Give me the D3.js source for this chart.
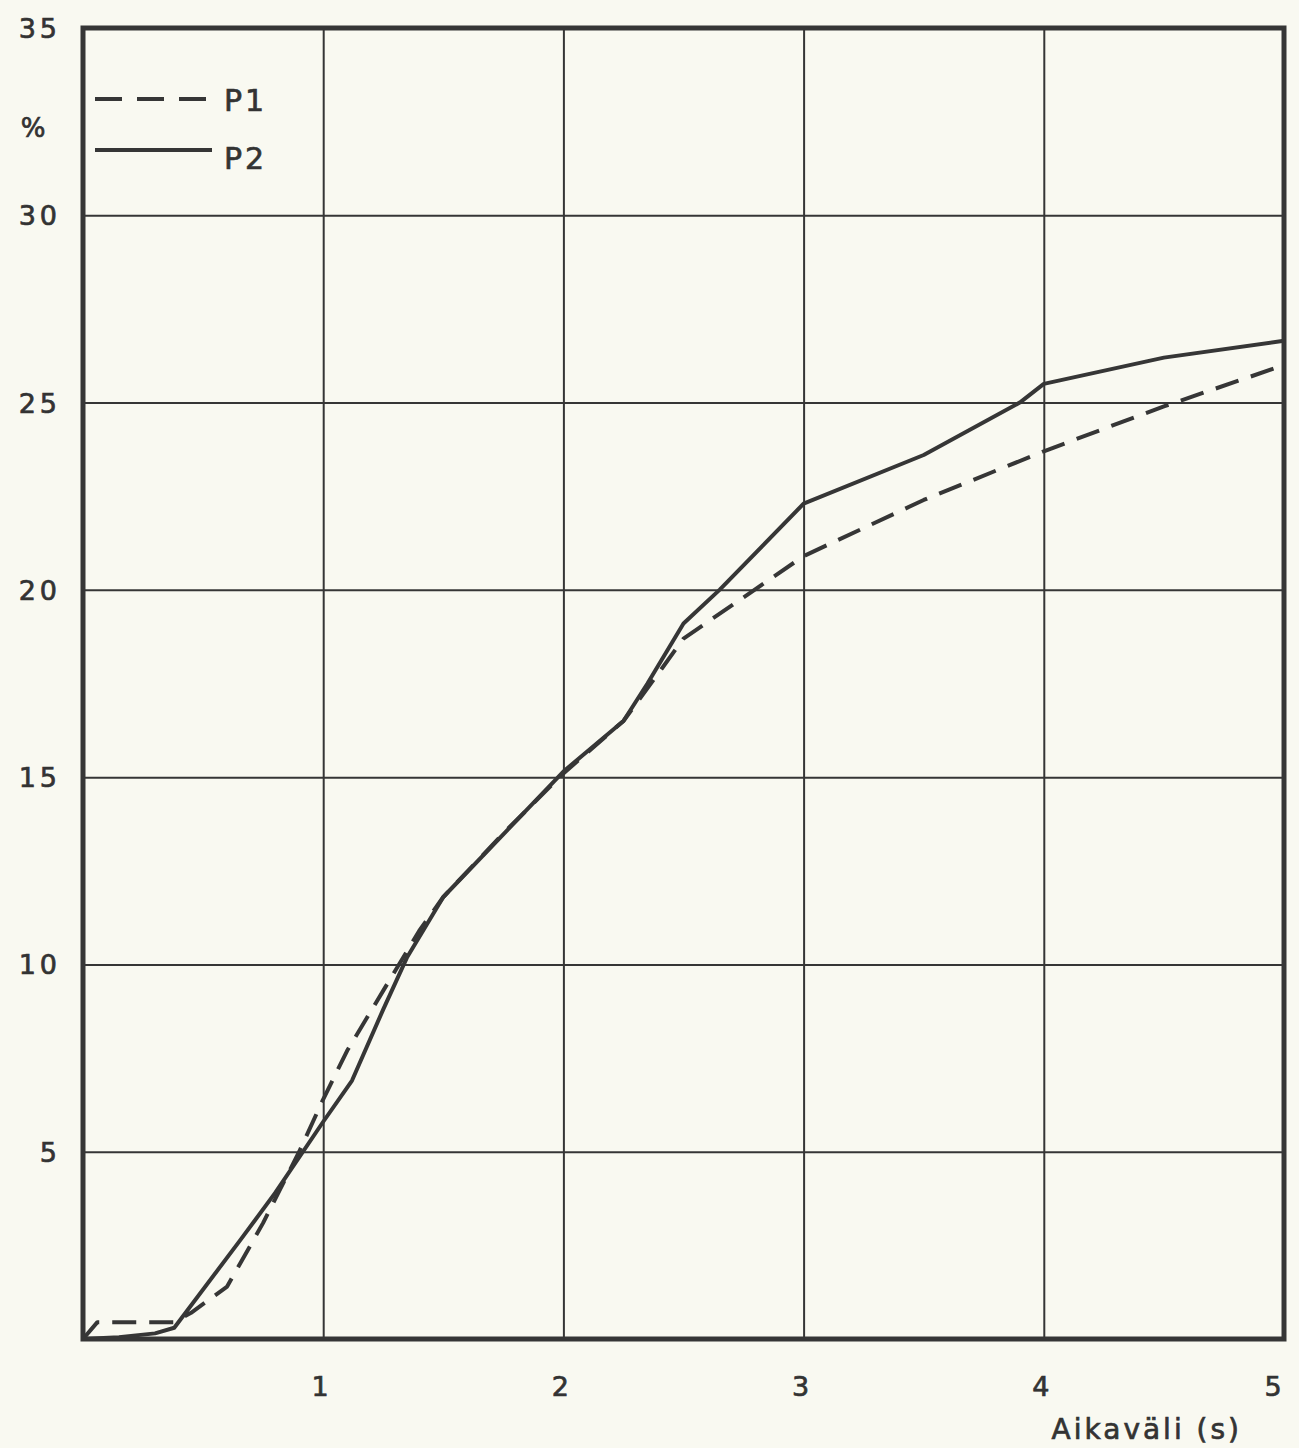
<!DOCTYPE html>
<html>
<head>
<meta charset="utf-8">
<script src="https://cdn.jsdelivr.net/npm/d3@7"></script>
<style>
  html, body { margin: 0; padding: 0; background: #f9f9f1; }
  svg { display: block; }
  text { font-family: "DejaVu Sans", "Lato", sans-serif; fill: #333; stroke: #333; stroke-width: 0.7px; }
</style>
</head>
<body>
<svg id="chart" width="1299" height="1448"></svg>
<script>
// ---- data ----
const xTicks = [1, 2, 3, 4, 5];
const yTicks = [5, 10, 15, 20, 25, 30, 35];
const xLabel = "Aikaväli (s)";
const yUnit = "%";
const seriesNames = ["P1", "P2"];

const p1X = [0, 0.06, 0.38, 0.45, 0.6, 0.75, 0.9, 1.0, 1.1, 1.25, 1.4, 1.5, 1.75, 2.0, 2.25, 2.41, 2.5, 2.75, 3.0, 3.5, 4.0, 4.5, 5.0];
const p1Y = [0, 0.45, 0.45, 0.7, 1.4, 3.1, 5.0, 6.4, 7.7, 9.3, 10.9, 11.8, 13.5, 15.1, 16.5, 17.9, 18.7, 19.8, 20.9, 22.4, 23.7, 24.9, 26.0];

const p2X = [0, 0.15, 0.3, 0.38, 0.65, 0.8, 1.0, 1.12, 1.25, 1.35, 1.5, 2.0, 2.25, 2.35, 2.5, 2.65, 3.0, 3.5, 3.9, 4.0, 4.5, 5.0];
const p2Y = [0, 0.05, 0.15, 0.3, 2.6, 3.9, 5.8, 6.9, 8.8, 10.2, 11.8, 15.15, 16.5, 17.5, 19.1, 20.0, 22.3, 23.6, 25.0, 25.5, 26.2, 26.65];

// ---- layout ----
const svg = d3.select("#chart");
const L = 83, R = 1284, T = 28, B = 1339;
const x = d3.scaleLinear().domain([0, 5]).range([L, R]);
const y = d3.scaleLinear().domain([0, 35]).range([B, T]);
const ink = "#363636";

// grid
const xAxis = d3.axisBottom(x).tickValues(xTicks).tickSize(-(B - T)).tickFormat("");
svg.append("g").attr("transform", `translate(0,${B})`).call(xAxis)
  .call(g => g.select(".domain").remove())
  .call(g => g.selectAll("line").attr("stroke", ink).attr("stroke-width", 2));
const yAxis = d3.axisLeft(y).tickValues(yTicks).tickSize(-(R - L)).tickFormat("");
svg.append("g").attr("transform", `translate(${L},0)`).call(yAxis)
  .call(g => g.select(".domain").remove())
  .call(g => g.selectAll("line").attr("stroke", ink).attr("stroke-width", 2));

// tick labels
svg.append("g").selectAll("text").data(yTicks).join("text")
  .attr("x", 61).attr("y", d => y(d) + 10)
  .attr("text-anchor", "end")
  .style("font-size", "27px").style("letter-spacing", "4px")
  .text(d => d);
svg.append("g").selectAll("text").data(xTicks).join("text")
  .attr("x", d => x(d) - (d === 5 ? 11 : 3)).attr("y", 1396)
  .attr("text-anchor", "middle")
  .style("font-size", "27px")
  .text(d => d);

svg.append("text").attr("x", 33).attr("y", 137).attr("text-anchor", "middle")
  .style("font-size", "26px").text(yUnit);
svg.append("text").attr("x", 1242).attr("y", 1439).attr("text-anchor", "end")
  .style("font-size", "28px").style("letter-spacing", "3px").text(xLabel);

// lines
const line = d3.line().x(d => x(d[0])).y(d => y(d[1]));
const p1 = p1X.map((v, i) => [v, p1Y[i]]);
const p2 = p2X.map((v, i) => [v, p2Y[i]]);

svg.append("path").datum(p1).attr("d", line)
  .attr("fill", "none").attr("stroke", ink).attr("stroke-width", 4)
  .attr("stroke-dasharray", "24,13").attr("stroke-linejoin", "round");
svg.append("path").datum(p2).attr("d", line)
  .attr("fill", "none").attr("stroke", ink).attr("stroke-width", 4)
  .attr("stroke-linejoin", "round");

// frame
svg.append("rect").attr("x", L).attr("y", T).attr("width", R - L).attr("height", B - T)
  .attr("fill", "none").attr("stroke", ink).attr("stroke-width", 5);

// legend
const leg = svg.append("g");
leg.append("line").attr("x1", 95).attr("x2", 207).attr("y1", 99).attr("y2", 99)
  .attr("stroke", ink).attr("stroke-width", 4).attr("stroke-dasharray", "27,15");
leg.append("line").attr("x1", 95).attr("x2", 212).attr("y1", 150).attr("y2", 150)
  .attr("stroke", ink).attr("stroke-width", 4);
leg.append("text").attr("x", 224).attr("y", 111).style("font-size", "30px")
  .style("letter-spacing", "3px").text(seriesNames[0]);
leg.append("text").attr("x", 224).attr("y", 169).style("font-size", "30px")
  .style("letter-spacing", "3px").text(seriesNames[1]);
</script>
</body>
</html>
